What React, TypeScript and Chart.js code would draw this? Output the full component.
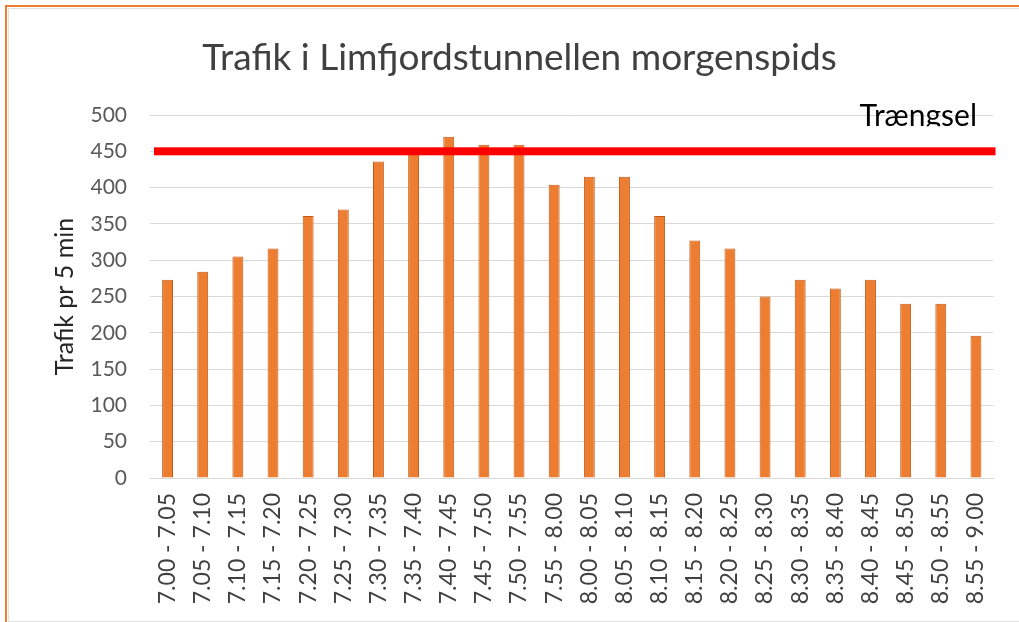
import React, { useEffect, useRef } from "react";
import { Chart, registerables } from "chart.js";

Chart.register(...registerables);

const chartTitle = "Trafik i Limfjordstunnellen morgenspids";
const yAxisTitle = "Trafik pr 5 min";

const categories = [
  "7.00 - 7.05", "7.05 - 7.10", "7.10 - 7.15", "7.15 - 7.20", "7.20 - 7.25", "7.25 - 7.30",
  "7.30 - 7.35", "7.35 - 7.40", "7.40 - 7.45", "7.45 - 7.50", "7.50 - 7.55", "7.55 - 8.00",
  "8.00 - 8.05", "8.05 - 8.10", "8.10 - 8.15", "8.15 - 8.20", "8.20 - 8.25", "8.25 - 8.30",
  "8.30 - 8.35", "8.35 - 8.40", "8.40 - 8.45", "8.45 - 8.50", "8.50 - 8.55", "8.55 - 9.00",
];

const traffic = [
  273, 284, 305, 316, 361, 370,
  436, 450, 470, 459, 459, 404,
  415, 415, 361, 327, 316, 250,
  273, 261, 273, 240, 240, 196,
];

const congestionLevel = 450;
const congestionLabel = "Trængsel";

const yMin = 0;
const yMax = 500;
const yStep = 50;

const titlePlugin = {
  id: "centeredTitle",
  afterDraw(chart: any) {
    const { ctx } = chart;
    ctx.save();
    ctx.font = "37px Lato";
    ctx.fillStyle = "#404040";
    ctx.textAlign = "center";
    ctx.textBaseline = "middle";
    ctx.fillText(chartTitle, chart.width / 2 + 10, 58);
    ctx.restore();
  },
};

const congestionPlugin = {
  id: "congestion",
  afterDatasetsDraw(chart: any) {
    const { ctx, chartArea, scales } = chart;
    const y = scales.y.getPixelForValue(congestionLevel);
    ctx.save();
    ctx.fillStyle = "#FF0000";
    ctx.fillRect(chartArea.left + 4, y - 4, chartArea.right - chartArea.left - 2, 8);
    ctx.beginPath();
    ctx.rect(chartArea.right - 160, 0, 200, y - 25);
    ctx.clip();
    ctx.font = "30px Lato";
    ctx.fillStyle = "#000000";
    ctx.textBaseline = "alphabetic";
    ctx.textAlign = "left";
    ctx.fillText(congestionLabel, chartArea.right - 134, y - 25);
    ctx.restore();
  },
};

export default function App() {
  const ref = useRef<HTMLCanvasElement>(null);

  useEffect(() => {
    if (!ref.current) return;
    const chart = new Chart(ref.current, {
      type: "bar",
      data: {
        labels: categories,
        datasets: [
          {
            label: "Trafik",
            data: traffic,
            backgroundColor: "#ED7D31",
            borderColor: "#C25A17",
            borderWidth: 1,
            categoryPercentage: 1,
            barPercentage: 0.31,
          },
        ],
      },
      options: {
        responsive: false,
        animation: false,
        devicePixelRatio: 1,
        layout: { padding: { left: 0, right: 22, top: 115, bottom: 0 } },
        plugins: {
          legend: { display: false },
          tooltip: { enabled: false },
          title: { display: false },
        },
        scales: {
          x: {
            grid: { drawOnChartArea: false, drawTicks: false },
            border: { display: true, color: "#D9D9D9" },
            ticks: {
              autoSkip: false,
              minRotation: 90,
              maxRotation: 90,
              padding: 15,
              color: "#404040",
              font: { family: "Lato", size: 23 },
            },
            afterFit: (s: any) => {
              s.height = 144;
            },
          },
          y: {
            min: yMin,
            max: yMax,
            grid: { color: "#D9D9D9", drawTicks: false },
            border: { display: false },
            ticks: {
              stepSize: yStep,
              padding: 23,
              color: "#595959",
              font: { family: "Lato", size: 21 },
            },
            title: {
              display: true,
              text: yAxisTitle,
              color: "#262626",
              font: { family: "Lato", size: 25 },
              padding: { top: 50, bottom: 0 },
            },
            afterFit: (s: any) => {
              s.width = 150;
            },
          },
        },
      },
      plugins: [congestionPlugin, titlePlugin],
    });
    return () => chart.destroy();
  }, []);

  return (
    <div style={{ position: "fixed", left: 0, top: 0, width: 1019, height: 622, background: "#fff", overflow: "hidden" }}>
      <div style={{ position: "absolute", left: 5, top: 5, width: 1020, height: 620, borderTop: "2px solid #ED7D31", borderLeft: "2px solid #ED7D31" }} />
      <div style={{ position: "absolute", left: 8, top: 8, width: 1020, height: 612, borderTop: "1px solid #E0E0E0", borderLeft: "1px solid #E0E0E0", borderBottom: "1px solid #E0E0E0" }} />
      <canvas ref={ref} width={1019} height={622} style={{ position: "absolute", left: 0, top: 0 }} />
    </div>
  );
}
